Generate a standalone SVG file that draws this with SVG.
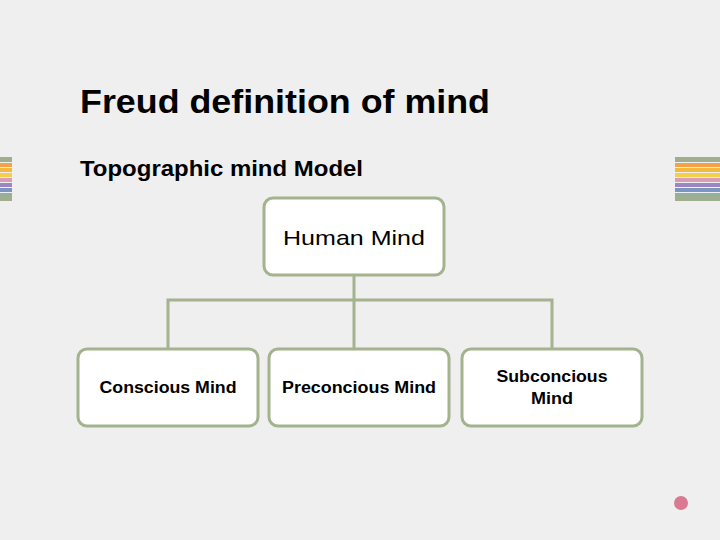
<svg xmlns="http://www.w3.org/2000/svg" width="720" height="540" viewBox="0 0 720 540">
<style>
.box{fill:#fff;stroke:#a3b38e;stroke-width:3}
.ln{stroke:#a3b38e;stroke-width:3;fill:none}
.t{font-family:"Liberation Sans",Arial,sans-serif;fill:#000}
.c{font-size:16px;font-weight:bold;text-anchor:middle}
</style>
<defs>
<g id="stripes">
<rect x="0" y="157" width="45" height="5" fill="#9fae8e"/>
<rect x="0" y="163" width="45" height="4" fill="#f3a24a"/>
<rect x="0" y="168" width="45" height="4" fill="#f4b93c"/>
<rect x="0" y="173" width="45" height="4" fill="#f2cf4c"/>
<rect x="0" y="178" width="45" height="4" fill="#d99bb5"/>
<rect x="0" y="183" width="45" height="4" fill="#9a86c0"/>
<rect x="0" y="188" width="45" height="4" fill="#7c94c0"/>
<rect x="0" y="193" width="45" height="3" fill="#8fb0a6"/>
<rect x="0" y="196" width="45" height="5" fill="#a1ad8f"/>
</g>
</defs>
<rect width="720" height="540" fill="#efefef"/>
<use href="#stripes" x="675"/>
<use href="#stripes" x="-33"/>
<circle cx="681" cy="503" r="7" fill="#d77a92"/>
<text class="t" x="80" y="113" font-size="34" font-weight="bold" textLength="410" lengthAdjust="spacingAndGlyphs">Freud definition of mind</text>
<text class="t" x="80" y="176" font-size="22" font-weight="bold" textLength="283" lengthAdjust="spacingAndGlyphs">Topographic mind Model</text>
<g id="connectors">
<path class="ln" d="M354 275V300M168 349V300H552V349M354 300V349"/>
</g>
<g id="human"><rect class="box" x="264" y="198" width="180" height="77" rx="9"/><text class="t" x="354" y="245" font-size="21" text-anchor="middle" textLength="142" lengthAdjust="spacingAndGlyphs">Human Mind</text></g>
<g id="conscious"><rect class="box" x="78" y="349" width="180" height="77" rx="9"/><text class="t c" x="168" y="393" textLength="137" lengthAdjust="spacingAndGlyphs">Conscious Mind</text></g>
<g id="preconscious"><rect class="box" x="269" y="349" width="180" height="77" rx="9"/><text class="t c" x="359" y="393" textLength="154" lengthAdjust="spacingAndGlyphs">Preconcious Mind</text></g>
<g id="subconscious"><rect class="box" x="462" y="349" width="180" height="77" rx="9"/><text class="t c" x="552" y="382" textLength="111" lengthAdjust="spacingAndGlyphs">Subconcious</text><text class="t c" x="552" y="404" textLength="42" lengthAdjust="spacingAndGlyphs">Mind</text></g>
</svg>
